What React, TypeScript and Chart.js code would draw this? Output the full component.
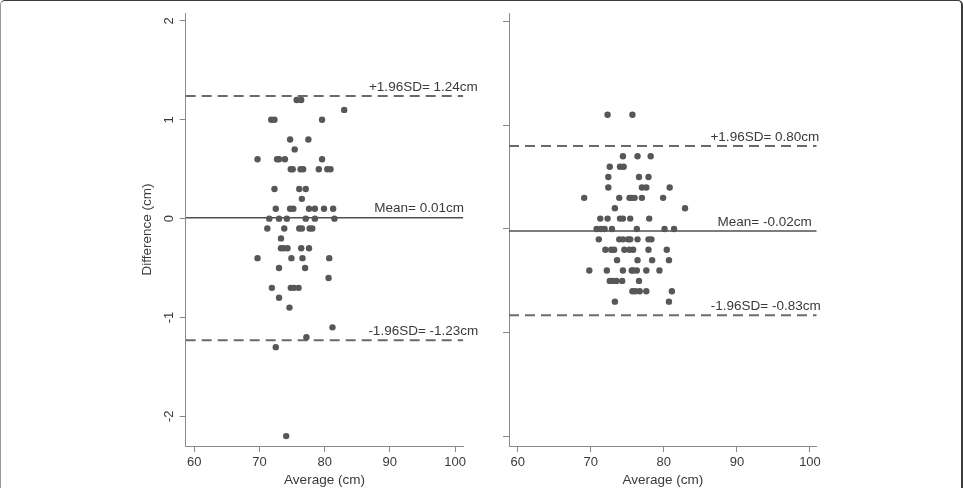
import React, { useEffect, useRef } from 'react';
import { Chart, registerables } from 'chart.js';

Chart.register(...registerables);

// ---- Left panel: difference vs. average of paired measurements ----
const LEFT_AVERAGE = [
  75.7, 76.4,
  83.0,
  71.8, 72.3, 79.6,
  74.7, 77.5,
  75.4,
  69.7, 72.7, 73.0, 73.9, 79.6,
  74.8, 75.1, 76.3, 76.7, 79.1, 80.4, 80.9,
  72.3, 76.1, 77.1,
  76.5,
  72.5, 74.7, 75.2, 77.6, 78.5, 79.9, 81.3,
  71.5, 73.0, 74.2, 77.1, 78.5, 81.5,
  71.2, 73.8, 76.1, 76.5, 77.7, 78.1,
  73.3,
  73.3, 73.7, 74.3, 76.4, 77.6,
  69.7, 74.9, 76.6, 80.7,
  73.0, 77.0,
  80.6,
  71.9, 74.8, 75.3, 76.0,
  73.0,
  74.6,
  81.2,
  77.2,
  72.5,
  74.1,
];
const LEFT_DIFFERENCE = [
  1.2, 1.2,
  1.1,
  1.0, 1.0, 1.0,
  0.8, 0.8,
  0.7,
  0.6, 0.6, 0.6, 0.6, 0.6,
  0.5, 0.5, 0.5, 0.5, 0.5, 0.5, 0.5,
  0.3, 0.3, 0.3,
  0.2,
  0.1, 0.1, 0.1, 0.1, 0.1, 0.1, 0.1,
  0, 0, 0, 0, 0, 0,
  -0.1, -0.1, -0.1, -0.1, -0.1, -0.1,
  -0.2,
  -0.3, -0.3, -0.3, -0.3, -0.3,
  -0.4, -0.4, -0.4, -0.4,
  -0.5, -0.5,
  -0.6,
  -0.7, -0.7, -0.7, -0.7,
  -0.8,
  -0.9,
  -1.1,
  -1.2,
  -1.3,
  -2.2,
];
// upper limit, mean, lower limit
const LEFT_REFERENCE = [1.24, 0.01, -1.23];
const LEFT_REFERENCE_TEXT = ['+1.96SD= 1.24cm', 'Mean= 0.01cm', '-1.96SD= -1.23cm'];

// ---- Right panel ----
const RIGHT_AVERAGE = [
  72.3, 75.7,
  74.4, 76.4, 78.2,
  72.6, 74.0, 74.5,
  72.4, 76.6, 77.9,
  72.4, 77.0, 77.6, 80.8,
  69.1, 73.9, 75.3, 75.6, 76.0, 77.0, 79.9,
  73.3, 82.9,
  71.3, 72.3, 74.0, 74.4, 75.4, 78.0,
  70.8, 71.4, 71.9, 72.9, 76.3, 80.1, 81.4,
  71.1, 73.9, 74.4, 75.1, 75.4, 76.4, 77.9, 78.3,
  72.0, 72.8, 73.2, 74.6, 75.3, 75.8, 77.9, 80.4,
  73.6, 76.4, 78.4, 80.7,
  69.8, 72.2, 74.4, 75.6, 75.8, 76.3, 77.6, 79.4,
  72.6, 73.0, 73.5, 74.3, 76.6,
  75.7, 76.1, 76.7, 77.6, 81.1,
  73.3, 80.7,
];
const RIGHT_DIFFERENCE = [
  1.1, 1.1,
  0.7, 0.7, 0.7,
  0.6, 0.6, 0.6,
  0.5, 0.5, 0.5,
  0.4, 0.4, 0.4, 0.4,
  0.3, 0.3, 0.3, 0.3, 0.3, 0.3, 0.3,
  0.2, 0.2,
  0.1, 0.1, 0.1, 0.1, 0.1, 0.1,
  0, 0, 0, 0, 0, 0, 0,
  -0.1, -0.1, -0.1, -0.1, -0.1, -0.1, -0.1, -0.1,
  -0.2, -0.2, -0.2, -0.2, -0.2, -0.2, -0.2, -0.2,
  -0.3, -0.3, -0.3, -0.3,
  -0.4, -0.4, -0.4, -0.4, -0.4, -0.4, -0.4, -0.4,
  -0.5, -0.5, -0.5, -0.5, -0.5,
  -0.6, -0.6, -0.6, -0.6, -0.6,
  -0.7, -0.7,
];
const RIGHT_REFERENCE = [0.80, -0.02, -0.83];
const RIGHT_REFERENCE_TEXT = ['+1.96SD= 0.80cm', 'Mean= -0.02cm', '-1.96SD= -0.83cm'];

// ---- Shared axis ticks ----
const X_TICKS = [60, 70, 80, 90, 100];
const Y_TICKS = [-2, -1, 0, 1, 2];

const FONT = '"Liberation Sans", Arial, Helvetica, sans-serif';
const TEXT = '#3a3a3a';
const AXIS = '#8a8a8a';
const POINT = '#575757';

// Writes the value of each reference line just above it, right-aligned
const referenceLabels = {
  id: 'referenceLabels',
  afterDatasetsDraw(chart: any, _args: any, opts: any) {
    const { ctx, chartArea, scales } = chart;
    ctx.save();
    ctx.font = `13.5px ${FONT}`;
    ctx.fillStyle = TEXT;
    ctx.textAlign = 'right';
    ctx.textBaseline = 'alphabetic';
    opts.values.forEach((v: number, i: number) => {
      const py = scales.y.getPixelForValue(v);
      ctx.fillText(opts.texts[i], chartArea.right + opts.shifts[i], py - 5.3);
    });
    ctx.restore();
  },
};

type PanelProps = {
  average: number[];
  difference: number[];
  reference: number[];
  referenceText: string[];
  textShifts: number[];
  xRange: [number, number];
  yRange: [number, number];
  showYLabels: boolean;
  left: number;
  width: number;
  plotLeft: number;
  plotRight: number;
};

function Panel(p: PanelProps) {
  const ref = useRef<HTMLCanvasElement | null>(null);

  useEffect(() => {
    if (!ref.current) return;
    const [xMin, xMax] = p.xRange;
    const points = p.average.map((x, i) => ({ x, y: p.difference[i] }));
    const refLine = (v: number, dashed: boolean) => ({
      type: 'scatter' as const,
      data: [{ x: xMin, y: v }, { x: xMax, y: v }],
      showLine: true,
      borderColor: dashed ? '#6a6a6a' : '#505050',
      borderWidth: dashed ? 2 : 1.5,
      borderDash: dashed ? [10, 6] : [],
      pointRadius: 0,
      pointHoverRadius: 0,
    });

    const chart = new Chart(ref.current, {
      type: 'scatter',
      data: {
        datasets: [
          {
            data: points,
            backgroundColor: POINT,
            borderWidth: 0,
            pointRadius: 3.2,
          },
          refLine(p.reference[0], true),
          refLine(p.reference[1], false),
          refLine(p.reference[2], true),
        ] as any,
      },
      options: {
        animation: false,
        responsive: false,
        events: [],
        layout: {
          padding: { left: 0, top: 13, right: p.width - p.plotRight, bottom: 0 },
        },
        plugins: {
          legend: { display: false },
          tooltip: { enabled: false },
          referenceLabels: {
            values: p.reference,
            texts: p.referenceText,
            shifts: p.textShifts,
          },
        } as any,
        scales: {
          x: {
            type: 'linear',
            min: xMin,
            max: xMax,
            afterBuildTicks: (s: any) => {
              s.ticks = X_TICKS.map((value) => ({ value }));
            },
            afterFit: (s: any) => {
              s.height = 42;
            },
            grid: { drawOnChartArea: false, drawTicks: true, tickLength: 6, color: AXIS },
            border: { display: true, color: AXIS, width: 1 },
            ticks: {
              color: TEXT,
              font: { family: FONT, size: 13 },
              padding: 2.5,
              minRotation: 0,
              maxRotation: 0,
            },
            title: {
              display: true,
              text: 'Average (cm)',
              color: TEXT,
              font: { family: FONT, size: 13.5 },
              padding: { top: 0, bottom: 0 },
            },
          },
          y: {
            type: 'linear',
            min: p.yRange[0],
            max: p.yRange[1],
            afterBuildTicks: (s: any) => {
              s.ticks = Y_TICKS.map((value) => ({ value }));
            },
            afterFit: (s: any) => {
              s.width = p.plotLeft;
            },
            grid: { drawOnChartArea: false, drawTicks: true, tickLength: 6, color: AXIS },
            border: { display: true, color: AXIS, width: 1 },
            ticks: {
              color: p.showYLabels ? TEXT : 'rgba(0,0,0,0)',
              font: { family: FONT, size: 13 },
              minRotation: 90,
              maxRotation: 90,
              crossAlign: 'center',
              padding: 4.5,
            },
            title: {
              display: p.showYLabels,
              text: 'Difference (cm)',
              color: TEXT,
              font: { family: FONT, size: 13.5 },
              padding: { top: 139.4, bottom: 0 },
            },
          },
        },
      },
      plugins: [referenceLabels],
    });
    return () => chart.destroy();
  }, []);

  return (
    <canvas
      ref={ref}
      width={p.width}
      height={488}
      style={{ position: 'absolute', left: p.left, top: 0, width: p.width, height: 488, display: 'block' }}
    />
  );
}

export default function App() {
  return (
    <div
      style={{
        position: 'absolute',
        left: 0,
        top: 0,
        width: 963,
        height: 488,
        background: '#ffffff',
        overflow: 'hidden',
      }}
    >
      <Panel
        average={LEFT_AVERAGE}
        difference={LEFT_DIFFERENCE}
        reference={LEFT_REFERENCE}
        referenceText={LEFT_REFERENCE_TEXT}
        textShifts={[14.5, 0.7, 15]}
        xRange={[58.68, 101.27]}
        yRange={[-2.3, 2.08]}
        showYLabels={true}
        left={0}
        width={490}
        plotLeft={185.7}
        plotRight={463.3}
      />
      <Panel
        average={RIGHT_AVERAGE}
        difference={RIGHT_DIFFERENCE}
        reference={RIGHT_REFERENCE}
        referenceText={RIGHT_REFERENCE_TEXT}
        textShifts={[2.6, -5, 4]}
        xRange={[58.81, 100.92]}
        yRange={[-2.09, 2.08]}
        showYLabels={false}
        left={490}
        width={473}
        plotLeft={19}
        plotRight={326.7}
      />
      <div
        style={{
          position: 'absolute',
          left: 0,
          top: 0,
          width: 963,
          height: 492,
          boxSizing: 'border-box',
          borderTop: '1px solid #3c3c3c',
          borderLeft: '1px solid #9a9a9a',
          borderRight: '2px solid #3c3c3c',
          borderRadius: '5px 5px 0 0',
          pointerEvents: 'none',
        }}
      />
    </div>
  );
}
